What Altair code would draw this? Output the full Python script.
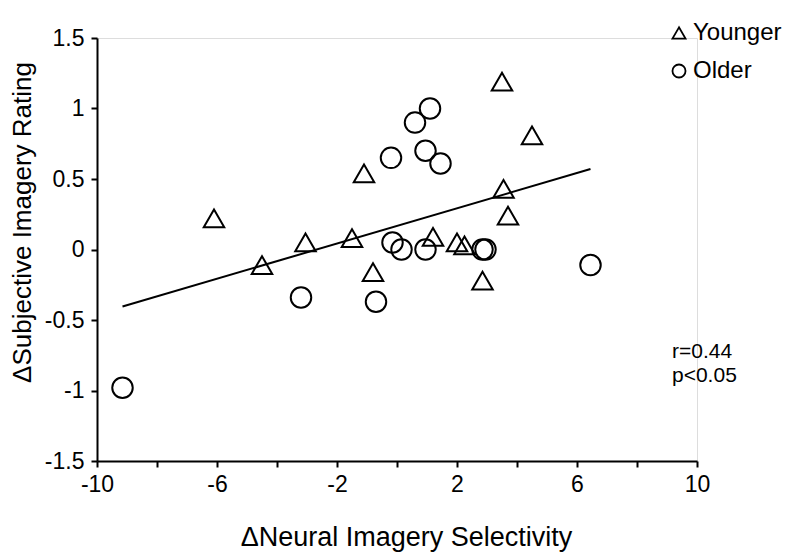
import altair as alt
import pandas as pd

# Younger group (triangles)
young_x = [-6.1, -4.5, -3.05, -1.5, -1.1, -0.8, 1.2, 2.0, 2.25, 2.85, 3.5, 3.55, 3.7, 4.5]
young_y = [0.22, -0.11, 0.05, 0.08, 0.54, -0.16, 0.09, 0.05, 0.03, -0.22, 1.19, 0.43, 0.24, 0.81]
# Older group (circles)
old_x = [-9.15, -3.2, -0.7, -0.2, -0.15, 0.15, 0.6, 0.95, 0.95, 1.1, 1.45, 2.85, 2.95, 6.45]
old_y = [-0.98, -0.34, -0.37, 0.65, 0.05, 0.0, 0.9, 0.70, 0.0, 1.0, 0.61, 0.0, 0.0, -0.11]

groups = ["Younger", "Older"]

df = pd.DataFrame({
    "x": young_x + old_x,
    "y": young_y + old_y,
    "group": [groups[0]] * len(young_x) + [groups[1]] * len(old_x),
})

FONT_N = "Liberation Sans Narrow, Liberation Sans, Arial"
FONT = "Liberation Sans, Arial"

xscale = alt.Scale(domain=[-10, 10], nice=False, zero=False)
yscale = alt.Scale(domain=[-1.5, 1.5], nice=False, zero=False)

xaxis = alt.Axis(
    values=list(range(-10, 11, 2)),
    labelExpr="(datum.value + 10) % 4 == 0 ? '' + datum.value : ''",
    grid=False, domainColor="black", domainWidth=2, tickColor="black", tickWidth=2,
    tickSize=6, labelFont=FONT_N, labelFontSize=23, labelColor="black", labelPadding=6,
    labelFlush=False,
    title="\u0394Neural Imagery Selectivity", titleFont=FONT, titleFontSize=27,
    titleFontWeight="normal", titleColor="black", titleX=309, titleY=76,
    titleBaseline="middle", titleAlign="center",
)
yaxis = alt.Axis(
    values=[-1.5, -1, -0.5, 0, 0.5, 1, 1.5],
    labelExpr="'' + datum.value",
    grid=False, domainColor="black", domainWidth=2, tickColor="black", tickWidth=2,
    tickSize=6, labelFont=FONT_N, labelFontSize=23, labelColor="black", labelPadding=7,
    labelFlush=False,
    title="\u0394Subjective Imagery Rating", titleFont=FONT, titleFontSize=26,
    titleFontWeight="normal", titleColor="black", titleX=-75, titleY=184,
    titleBaseline="middle", titleAlign="center", titleAngle=-90,
)

points = alt.Chart(df).mark_point(filled=False, strokeWidth=2, size=420, color="black", opacity=1).encode(
    x=alt.X("x:Q", scale=xscale, axis=xaxis),
    y=alt.Y("y:Q", scale=yscale, axis=yaxis),
    shape=alt.Shape("group:N",
                    scale=alt.Scale(domain=groups, range=["triangle-up", "circle"]),
                    legend=alt.Legend(orient="none", legendX=570, legendY=-17, title=None,
                                      symbolSize=170, symbolStrokeWidth=1.8,
                                      symbolStrokeColor="black", symbolFillColor="white",
                                      labelFont=FONT, labelFontSize=24, labelColor="black",
                                      labelOffset=2, rowPadding=14, padding=0)),
)

fit = alt.Chart(df).transform_regression("x", "y").mark_line(color="black", strokeWidth=2).encode(
    x=alt.X("x:Q", scale=xscale),
    y=alt.Y("y:Q", scale=yscale),
)

stats = alt.Chart(pd.DataFrame({"t": ["r=0.44\np<0.05"]})).mark_text(
    align="left", baseline="middle", font=FONT, fontSize=21, color="black", lineBreak="\n", lineHeight=24,
).encode(x=alt.value(575), y=alt.value(314), text="t:N")

chart = alt.layer(fit, points, stats).properties(
    width=600, height=423,
    autosize=alt.AutoSizeParams(type="none"),
    padding={"left": 89, "top": 30, "right": 90, "bottom": 100},
).configure_view(stroke=None).configure(background="white")

chart.save("out.html", embed_options={"renderer": "svg", "actions": False})
